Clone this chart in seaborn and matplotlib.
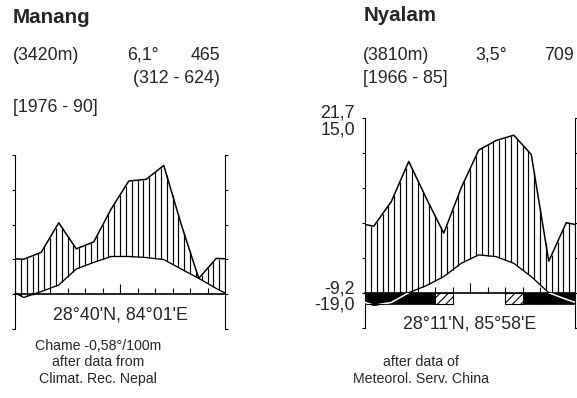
import numpy as np
import pandas as pd
import matplotlib
matplotlib.use("Agg")
import matplotlib.pyplot as plt
import seaborn as sns

# ---------------- data ----------------
months = ["Jan", "Feb", "Mar", "Apr", "May", "Jun", "Jul", "Aug", "Sep", "Oct", "Nov", "Dec"]

manang_temp = [-1.0, 0.7, 2.6, 7.2, 9.1, 10.8, 10.8, 10.5, 9.9, 7.2, 4.5, 1.6]      # deg C
manang_prec = [20, 24, 41, 26, 30, 49, 65, 66, 74, 40, 9, 20.5]                    # mm

nyalam_temp = [-3.6, -2.8, 0.0, 2.0, 4.6, 8.4, 10.8, 10.3, 8.4, 4.6, 0.0, -1.9]    # deg C
nyalam_prec = [38, 52, 75, 54, 34, 60, 81.5, 87, 90, 79, 18, 40]                  # mm
nyalam_frost = [2, 2, 2, 2, 1, 0, 0, 0, 1, 2, 2, 2]   # 2 = frost, 1 = possible frost

manang_header = ["Manang", "(3420m)", "6,1°", "465", "(312 - 624)", "[1976 - 90]"]
nyalam_header = ["Nyalam", "(3810m)", "3,5°", "709", "[1966 - 85]"]
nyalam_top_labels = ["21,7", "15,0"]
nyalam_bottom_labels = ["-9,2", "-19,0"]
manang_coord = "28°40'N, 84°01'E"
nyalam_coord = "28°11'N, 85°58'E"
manang_notes = ["Chame -0,58°/100m", "after data from", "Climat. Rec. Nepal"]
nyalam_notes = ["after data of", "Meteorol. Serv. China"]

# ---------------- style ----------------
sns.set_style("white")
plt.rcParams["font.family"] = ["Liberation Sans", "DejaVu Sans"]
plt.rcParams["axes.edgecolor"] = "black"
plt.rcParams["hatch.linewidth"] = 0.8

W, H = 577, 398
fig = plt.figure(figsize=(W / 100, H / 100), dpi=100)
fig.patch.set_facecolor("white")


def px_axes(x0, y_top, x1, y_bot):
    return fig.add_axes([x0 / W, 1 - y_bot / H, (x1 - x0) / W, (y_bot - y_top) / H])


def ftext(x, y, s, **kw):
    kw.setdefault("va", "baseline")
    fig.text(x / W, 1 - y / H, s, **kw)


def extend(vals):
    v = np.asarray(vals, dtype=float)
    edge = (v[0] + v[-1]) / 2
    return np.concatenate([[edge], v, [edge]])


def draw_panel(ax, temp, prec, ytop, frost=None):
    mid = np.arange(12) + 0.5
    xe = np.concatenate([[0], mid, [12]])
    te = extend(temp)
    pe = extend(prec) / 2.0          # 10 degC = 20 mm
    df_t = pd.DataFrame({"x": xe, "y": te})
    df_p = pd.DataFrame({"x": xe, "y": pe})

    # vertical hatching of the humid period
    xs = np.linspace(0, 12, 37)
    lo = np.interp(xs, xe, te)
    hi = np.interp(xs, xe, pe)
    ax.vlines(xs, lo, hi, color="black", lw=0.85, zorder=2)

    depth = 3.2
    if frost is not None:
        for i, f in enumerate(frost):
            if f == 2:
                bar = ax.bar(mid[i], -depth, width=1.0, bottom=0, color="black",
                             edgecolor="black", lw=0.5, zorder=3)
                line, = ax.plot(xe, te, color="white", lw=1.1, zorder=6)
                line.set_clip_path(bar.patches[0])
            elif f == 1:
                ax.bar(mid[i], -depth, width=1.0, bottom=0, facecolor="white",
                       edgecolor="black", hatch="////", lw=0.8, zorder=3)
        xf = np.linspace(0, 12, 400)
        tf = np.interp(xf, xe, te)
        ax.fill_between(xf, tf, -depth, where=tf < -depth, color="black", lw=0, zorder=3)

    sns.lineplot(data=df_t, x="x", y="y", color="black", linewidth=0.95,
                 estimator=None, sort=False, ax=ax, zorder=4)
    sns.lineplot(data=df_p, x="x", y="y", color="black", linewidth=1.1,
                 estimator=None, sort=False, ax=ax, zorder=4)

    ax.set_xlim(0, 12)
    ax.set_ylim(-10, ytop)
    ax.set_facecolor("none")
    ax.spines["top"].set_visible(False)
    ax.spines["bottom"].set_position(("data", 0))
    ax.spines["bottom"].set_linewidth(1.2)
    ax.spines["bottom"].set_zorder(3.5)
    for s in ("left", "right"):
        ax.spines[s].set_linewidth(0.8)
    ax.set_yticks(range(-10, ytop + 1, 10))
    ax.set_xticks([6])
    ax.set_xticks([1, 2, 3, 4, 5, 7, 8, 9, 10, 11], minor=True)
    ax.tick_params(axis="y", which="both", left=True, right=True, direction="out",
                   length=2.0, width=0.8, labelleft=False, labelright=False, color="black")
    ax.tick_params(axis="x", which="major", bottom=True, top=False, direction="in",
                   length=7.2, width=0.8, labelbottom=False, color="black")
    ax.tick_params(axis="x", which="minor", bottom=True, top=False, direction="in",
                   length=4.3, width=0.8, labelbottom=False, color="black")
    ax.set_xlabel("")
    ax.set_ylabel("")
    ax.grid(False)


ax1 = px_axes(15, 155, 225, 328.75)
draw_panel(ax1, manang_temp, manang_prec, 40)

ax2 = px_axes(365, 117.7, 575, 327.7)
draw_panel(ax2, nyalam_temp, nyalam_prec, 50, frost=nyalam_frost)

# ---------------- texts ----------------
fs = 12.8
ftext(13, 22.7, manang_header[0], fontsize=14.8, fontweight="bold")
ftext(13, 60, manang_header[1], fontsize=fs)
ftext(126.7, 60, manang_header[2], fontsize=fs)
ftext(220, 60, manang_header[3], fontsize=fs, ha="right")
ftext(220, 83.3, manang_header[4], fontsize=fs, ha="right")
ftext(13, 111.7, manang_header[5], fontsize=fs)

ftext(363.3, 20.7, nyalam_header[0], fontsize=14.8, fontweight="bold")
ftext(363.3, 60, nyalam_header[1], fontsize=fs)
ftext(475, 60, nyalam_header[2], fontsize=fs)
ftext(544.3, 60, nyalam_header[3], fontsize=fs)
ftext(363.3, 83.3, nyalam_header[4], fontsize=fs)

ftext(355, 117.5, nyalam_top_labels[0], fontsize=fs, ha="right")
ftext(355, 134.5, nyalam_top_labels[1], fontsize=fs, ha="right")
ftext(355, 293.5, nyalam_bottom_labels[0], fontsize=fs, ha="right")
ftext(355, 309.5, nyalam_bottom_labels[1], fontsize=fs, ha="right")

ftext(120, 320, manang_coord, fontsize=fs, ha="center")
ftext(470, 328.3, nyalam_coord, fontsize=fs, ha="center")

fn = 10.2
for i, s in enumerate(manang_notes):
    ftext(98, 350 + 16.4 * i, s, fontsize=fn, ha="center")
for i, s in enumerate(nyalam_notes):
    ftext(421, 366.4 + 16.4 * i, s, fontsize=fn, ha="center")

fig.savefig("out.png", dpi=100, facecolor="white")
